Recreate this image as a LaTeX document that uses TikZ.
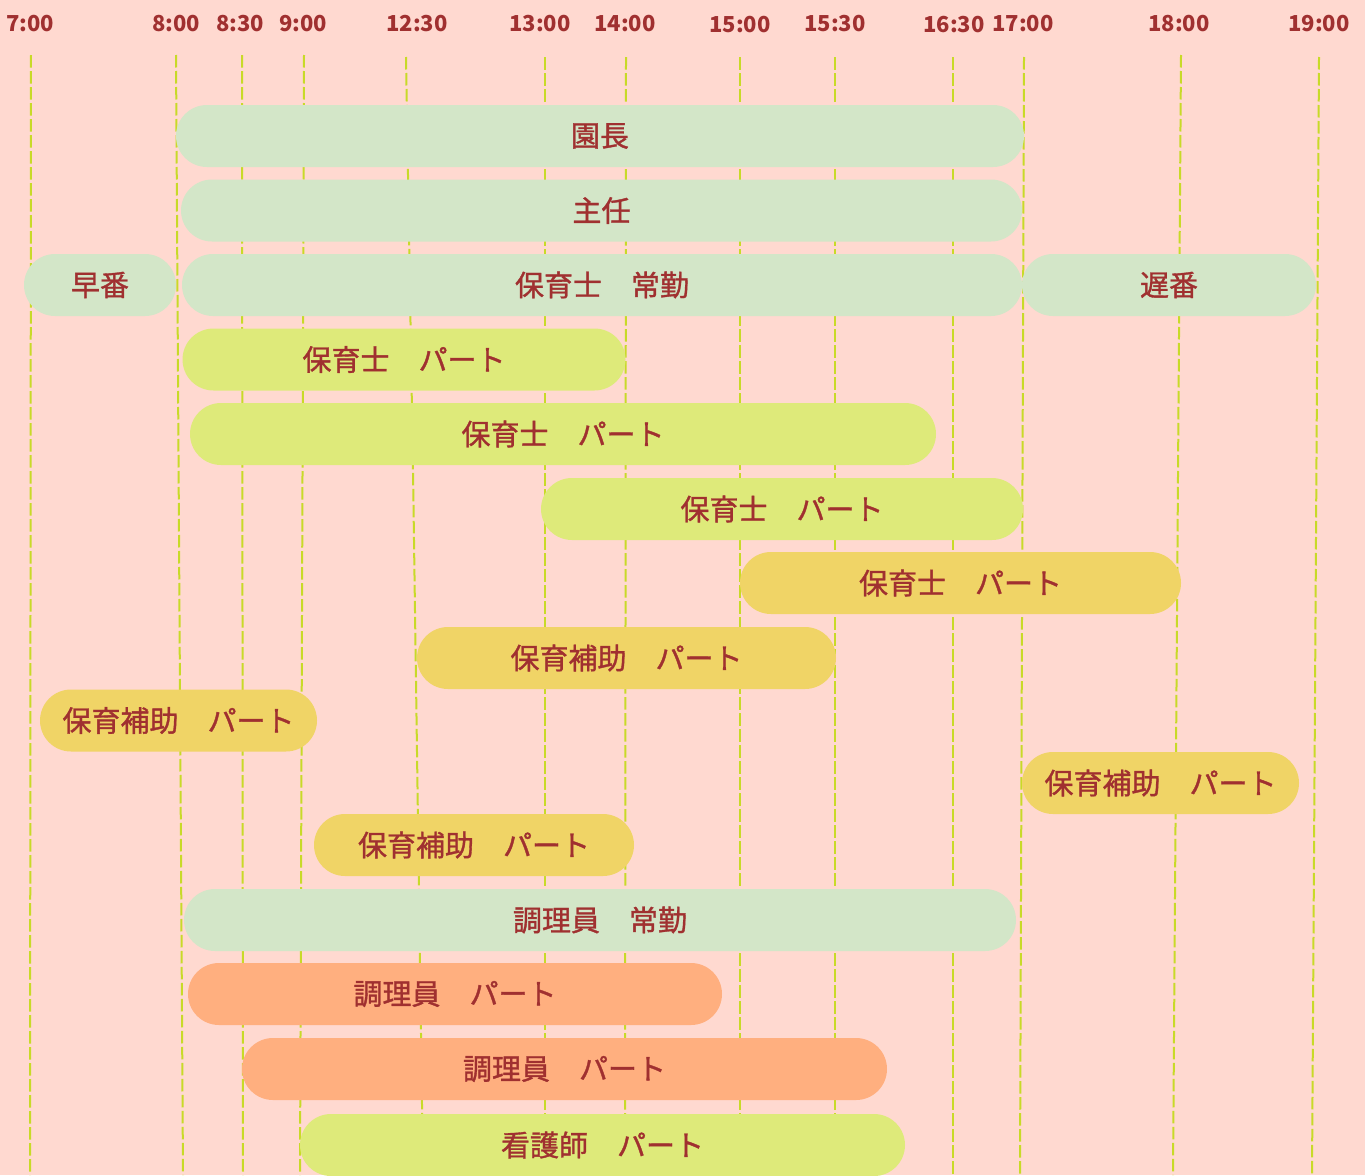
\documentclass[tikz,border=0pt]{standalone}
\usepackage{fontspec}
\setmainfont{Noto Sans CJK JP}
\newfontfamily\barfont{Noto Sans CJK JP}[FakeBold=1.2]
\definecolor{bgc}{HTML}{FFD9D0}
\definecolor{cgreen}{HTML}{D3E6C8}
\definecolor{clime}{HTML}{DEEA7A}
\definecolor{cyellow}{HTML}{F0D466}
\definecolor{corange}{HTML}{FFAF7F}
\definecolor{ctext}{HTML}{A03030}
\definecolor{cdash}{HTML}{C8DA28}
\tikzset{
  vline/.style={draw=cdash, line width=2pt, dash pattern=on 12.5pt off 3.5pt},
  tlabel/.style={text=ctext, font=\fontsize{22}{24}\selectfont\bfseries, inner sep=0pt},
  bar/.style={rounded corners=31pt, minimum height=62pt, inner sep=0pt, text=ctext,
    font=\barfont\fontsize{29}{31}\selectfont},
}
\begin{document}
\begin{tikzpicture}[x=1pt,y=-1pt]
\fill[bgc] (0,0) rectangle (1365,1175);
\useasboundingbox (0,0) rectangle (1365,1175);
% time labels
\node[tlabel] (t700) at (30,24) {7:00};
\node[tlabel] (t800) at (176,24) {8:00};
\node[tlabel] (t830) at (240,24) {8:30};
\node[tlabel] (t900) at (303,24) {9:00};
\node[tlabel] (t1230) at (417,24) {12:30};
\node[tlabel] (t1300) at (540,24) {13:00};
\node[tlabel] (t1400) at (625,24) {14:00};
\node[tlabel] (t1500) at (740,25) {15:00};
\node[tlabel] (t1530) at (835,24) {15:30};
\node[tlabel] (t1630) at (954,25) {16:30};
\node[tlabel] (t1700) at (1023,24) {17:00};
\node[tlabel] (t1800) at (1179,24) {18:00};
\node[tlabel] (t1900) at (1319,24) {19:00};
% grid lines
\draw[vline] (31,55) -- (30,1175);
\draw[vline] (176,55) -- (183,1175);
\draw[vline] (242,55) -- (243,1175);
\draw[vline] (304,55) -- (300,1175);
\draw[vline] (406,57) -- (413,470) -- (423,1175);
\draw[vline] (545,57) -- (545,1175);
\draw[vline] (626,57) -- (625,1175);
\draw[vline] (740,57) -- (740,1175);
\draw[vline] (835,57) -- (835,1175);
\draw[vline] (953,57) -- (953,1175);
\draw[vline] (1024,57) -- (1020,1175);
\draw[vline] (1181,55) -- (1173,1175);
\draw[vline] (1319,57) -- (1312,1175);
% bars
\node[bar, fill=cgreen, minimum width=848pt] (b1) at (600,136) {園長};
\node[bar, fill=cgreen, minimum width=841pt] (b2) at (601.5,210.5) {主任};
\node[bar, fill=cgreen, minimum width=152pt] (b3a) at (100,285) {早番};
\node[bar, fill=cgreen, minimum width=840pt] (b3b) at (602,285) {保育士　常勤};
\node[bar, fill=cgreen, minimum width=294pt] (b3c) at (1169,285) {遅番};
\node[bar, fill=clime, minimum width=443pt] (b4) at (404,359.5) {保育士　パート};
\node[bar, fill=clime, minimum width=746pt] (b5) at (563,434) {保育士　パート};
\node[bar, fill=clime, minimum width=482pt] (b6) at (782,509) {保育士　パート};
\node[bar, fill=cyellow, minimum width=441pt] (b7) at (960.5,583) {保育士　パート};
\node[bar, fill=cyellow, minimum width=419pt] (b8) at (626.5,658) {保育補助　パート};
\node[bar, fill=cyellow, minimum width=277pt] (b9) at (178.5,720.5) {保育補助　パート};
\node[bar, fill=cyellow, minimum width=277pt] (b10) at (1160.5,783) {保育補助　パート};
\node[bar, fill=cyellow, minimum width=320pt] (b11) at (474,845) {保育補助　パート};
\node[bar, fill=cgreen, minimum width=832pt] (b12) at (600,920) {調理員　常勤};
\node[bar, fill=corange, minimum width=534pt] (b13) at (455,994) {調理員　パート};
\node[bar, fill=corange, minimum width=645pt] (b14) at (564.5,1069) {調理員　パート};
\node[bar, fill=clime, minimum width=605pt] (b15) at (602.5,1145) {看護師　パート};
\end{tikzpicture}
\end{document}
